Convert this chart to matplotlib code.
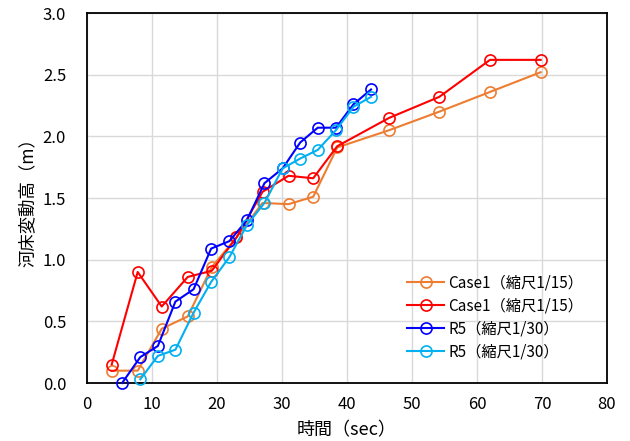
import matplotlib
matplotlib.use("Agg")
import matplotlib.pyplot as plt

plt.rcParams['font.family'] = ['Noto Sans CJK JP', 'DejaVu Sans']

case1a_x = [3.8, 7.8, 11.5, 15.5, 19.2, 23.0, 27.0, 31.0, 34.8, 38.5, 46.5, 54.2, 62.0, 69.8]
case1a_y = [0.10, 0.10, 0.44, 0.54, 0.94, 1.18, 1.46, 1.45, 1.51, 1.91, 2.05, 2.20, 2.36, 2.52]
case1b_x = [3.8, 7.8, 11.5, 15.5, 19.2, 23.0, 27.0, 31.0, 34.8, 38.5, 46.5, 54.2, 62.0, 69.8]
case1b_y = [0.15, 0.90, 0.62, 0.86, 0.91, 1.18, 1.55, 1.68, 1.66, 1.92, 2.15, 2.32, 2.62, 2.62]
r5a_x = [5.4, 8.2, 10.9, 13.6, 16.4, 19.1, 21.9, 24.6, 27.3, 30.1, 32.8, 35.5, 38.3, 41.0, 43.7]
r5a_y = [0.00, 0.21, 0.30, 0.66, 0.76, 1.09, 1.15, 1.32, 1.62, 1.74, 1.95, 2.07, 2.07, 2.26, 2.38]
r5b_x = [8.2, 10.9, 13.6, 16.4, 19.1, 21.9, 24.6, 27.3, 30.1, 32.8, 35.5, 38.3, 41.0, 43.7]
r5b_y = [0.03, 0.22, 0.27, 0.57, 0.82, 1.02, 1.28, 1.46, 1.74, 1.82, 1.89, 2.05, 2.24, 2.32]

labels = ['Case1（縮尺1/15）', 'Case1（縮尺1/15）', 'R5（縮尺1/30）', 'R5（縮尺1/30）']
colors = ['#ED7D31', '#FF0000', '#0000FF', '#00B0F0']
xticks = [0, 10, 20, 30, 40, 50, 60, 70, 80]
yticks = [0.0, 0.5, 1.0, 1.5, 2.0, 2.5, 3.0]

W, H = 630, 441
fig = plt.figure(figsize=(W / 100, H / 100), dpi=100)
ax = fig.add_axes([87 / W, 1 - 383 / H, 520 / W, 370 / H])

series = [(case1a_x, case1a_y), (case1b_x, case1b_y), (r5a_x, r5a_y), (r5b_x, r5b_y)]
for (xs, ys), c, lab in zip(series, colors, labels):
    ax.plot(xs, ys, color=c, lw=1.5, marker='o', ms=8, mfc='none', mec=c, mew=1.2,
            label=lab, clip_on=False, zorder=3)

ax.set_xlim(0, 80)
ax.set_ylim(0, 3.0)
ax.set_xticks(xticks)
ax.set_yticks(yticks)
ax.set_yticklabels([f"{v:.1f}" for v in yticks])
ax.tick_params(length=0, labelsize=12)
ax.tick_params(axis='x', pad=9.5)
ax.tick_params(axis='y', pad=15)
ax.grid(True, color='#D9D9D9', lw=1)
ax.set_axisbelow(True)
for s in ax.spines.values():
    s.set_color('black')
    s.set_linewidth(1.3)

ax.set_xlabel('時間（sec）', fontsize=13, labelpad=6)
ax.set_ylabel('河床変動高（m）', fontsize=12.5, labelpad=4)

leg = ax.legend(loc='upper left', bbox_to_anchor=(407 / W, 1 - 274 / H),
                bbox_transform=fig.transFigure, frameon=False,
                borderpad=0, borderaxespad=0,
                fontsize=11, handlelength=2.45, labelspacing=0.4, handletextpad=0.27)

fig.savefig('out.png', dpi=100)
